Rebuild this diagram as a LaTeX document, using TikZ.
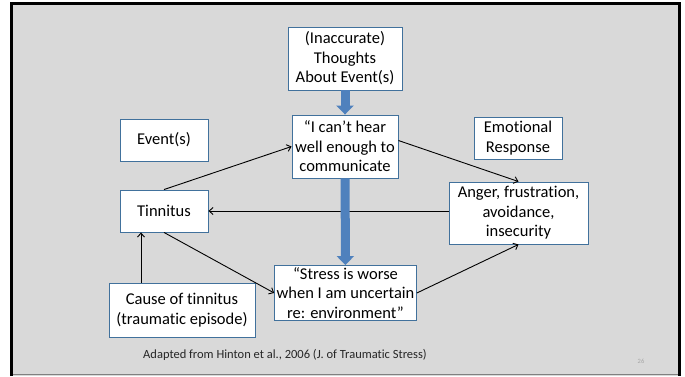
\documentclass[tikz,border=0pt]{standalone}
\usepackage{fontspec}
\setmainfont{Carlito}[Ligatures=NoCommon]
\usetikzlibrary{arrows.meta}
\definecolor{cbg}{HTML}{D9D9D9}
\definecolor{cedge}{HTML}{41719C}
\definecolor{cblue}{HTML}{4F81BD}
\definecolor{cgrey}{HTML}{A6A6A6}
\tikzset{
  every picture/.style={line width=0.9pt},
  box/.style={draw=cedge, fill=white, align=center, inner sep=2pt, font=\fontsize{16.5}{19.5}\selectfont},
  link/.style={-{Straight Barb[length=4pt, width=7pt]}, draw=black, line width=0.9pt},
  bigarrow/.style={-{Triangle[width=17pt, length=9pt]}, draw=cblue, line width=9pt},
  note/.style={font=\fontsize{12.5}{14}\selectfont, text=black!85},
}

\begin{document}
\begin{tikzpicture}[x=1pt, y=-1pt]
  \useasboundingbox (0,0) rectangle (685,376);
  \fill[white] (0,0) rectangle (685,376);
  \fill[cbg] (11,3) rectangle (680,376);
  \draw[gray, line width=1pt] (11,374.5) -- (680,374.5);
  \draw[black, line width=3pt] (11.5,376) |- (679.5,3.5) -- (679.5,376);
  % boxes
  \node[box, minimum width=114pt, minimum height=63pt] (thoughts) at (345,58.5) {(Inaccurate)\\Thoughts\\About Event(s)};
  \node[box, minimum width=88pt, minimum height=42pt] (event) at (164,140) {Event(s)};
  \node[box, minimum width=106pt, minimum height=63pt] (hear) at (345,146.5) {“I can’t hear\\well enough to\\communicate};
  \node[box, minimum width=88pt, minimum height=42pt] (emo) at (518,138) {Emotional\\Response};
  \node[box, minimum width=88pt, minimum height=42pt] (tinn) at (164,211) {Tinnitus};
  \node[box, minimum width=139pt, minimum height=62pt] (anger) at (518.5,213) {Anger, frustration,\\avoidance,\\insecurity};
  \node[box, minimum width=139pt, minimum height=54pt] (stress) at (345.5,293) {“Stress is worse\\when I am uncertain\\re: environment”};
  \node[box, minimum width=146pt, minimum height=54pt] (cause) at (182,310) {Cause of tinnitus\\(traumatic episode)};
  % connectors
  \draw[link] (tinn.north) -- (hear.west);
  \draw[link] ([yshift=6pt]hear.east) -- (anger.north);
  \draw[link] (anger.west |- tinn.east) -- (tinn.east);
  \draw[link] (tinn.south) -- (stress.west);
  \draw[link] (stress.east) -- (anger.south);
  \draw[link] ([xshift=-41pt]cause.north) -- ([xshift=-23pt]tinn.south);
  \draw[bigarrow] (thoughts) -- (hear);
  \draw[bigarrow] (hear) -- (stress);
  % source
  \node[note] (src) at (285,355) {Adapted from Hinton et al., 2006 (J. of Traumatic Stress)};
  \node[font=\fontsize{6.5}{7}\selectfont, text=cgrey] (page) at (641,361) {26};
\end{tikzpicture}
\end{document}
